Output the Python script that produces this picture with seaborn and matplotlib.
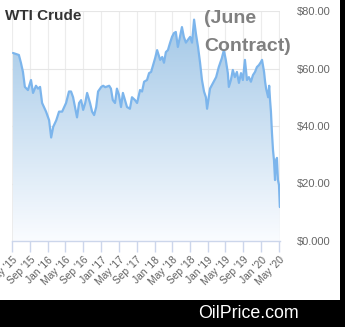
import matplotlib
matplotlib.use("Agg")
import matplotlib.pyplot as plt
import matplotlib.dates as mdates
import numpy as np
import pandas as pd
import seaborn as sns
from matplotlib.patches import Rectangle, Polygon

dates = ["2015-05-08", "2015-06-17", "2015-07-01", "2015-07-15", "2015-07-28", "2015-08-18",
         "2015-09-08", "2015-09-22", "2015-10-12", "2015-10-26", "2015-11-09", "2015-11-23",
         "2015-12-20", "2016-01-10", "2016-01-24", "2016-02-07", "2016-02-28", "2016-03-18",
         "2016-04-08", "2016-05-05", "2016-05-25", "2016-06-08", "2016-06-22", "2016-07-05",
         "2016-07-19", "2016-08-02", "2016-08-16", "2016-08-30", "2016-09-13", "2016-09-26",
         "2016-10-16", "2016-10-30", "2016-11-13", "2016-11-27", "2016-12-10", "2017-01-01",
         "2017-01-14", "2017-01-28", "2017-02-24", "2017-03-08", "2017-03-21", "2017-04-05",
         "2017-04-18", "2017-05-02", "2017-05-16", "2017-05-29", "2017-06-12", "2017-06-26",
         "2017-07-16", "2017-07-30", "2017-08-20", "2017-09-03", "2017-09-23", "2017-10-07",
         "2017-10-21", "2017-11-10", "2017-11-24", "2017-12-08", "2017-12-22", "2018-01-05",
         "2018-01-18", "2018-02-08", "2018-02-22", "2018-03-06", "2018-03-19", "2018-04-02",
         "2018-04-16", "2018-04-30", "2018-05-13", "2018-05-26", "2018-06-09", "2018-06-23",
         "2018-07-07", "2018-07-20", "2018-08-03", "2018-08-17", "2018-09-01", "2018-09-14",
         "2018-09-28", "2018-10-11", "2018-10-25", "2018-11-08", "2018-11-21", "2018-12-05",
         "2018-12-18", "2018-12-26", "2019-01-15", "2019-02-05", "2019-02-26", "2019-03-16",
         "2019-04-06", "2019-04-20", "2019-05-03", "2019-05-17", "2019-05-24", "2019-06-07",
         "2019-06-20", "2019-07-04", "2019-07-18", "2019-08-01", "2019-08-15", "2019-08-28",
         "2019-09-11", "2019-09-25", "2019-10-08", "2019-10-22", "2019-11-05", "2019-11-19",
         "2019-12-02", "2019-12-16", "2019-12-30", "2020-01-06", "2020-01-20", "2020-01-27",
         "2020-02-03", "2020-02-17", "2020-02-24", "2020-03-01", "2020-03-07", "2020-03-14",
         "2020-03-21", "2020-03-28", "2020-04-04", "2020-04-11", "2020-04-17", "2020-04-24",
         "2020-05-01", "2020-05-07"]
prices = [65.4, 64.7, 62.0, 58.8, 53.6, 52.5,
          56.0, 51.5, 54.0, 53.0, 53.6, 48.0,
          45.0, 42.0, 36.0, 39.7, 42.0, 45.0,
          45.0, 48.0, 52.0, 52.0, 50.0, 46.6,
          43.0, 48.0, 49.0, 45.6, 48.0, 51.5,
          48.0, 45.0, 43.8, 46.6, 52.0, 53.6,
          54.0, 53.5, 54.0, 53.0, 49.0, 48.0,
          53.0, 50.8, 46.6, 51.5, 49.0, 46.6,
          46.0, 50.0, 49.0, 48.0, 52.5, 52.0,
          55.4, 56.0, 58.4, 58.8, 61.2, 63.7,
          66.4, 63.0, 64.0, 62.0, 65.7, 66.4,
          68.8, 71.0, 72.3, 72.7, 67.5, 71.0,
          74.4, 71.0, 69.0, 70.0, 71.0, 69.0,
          77.0, 72.0, 67.5, 62.0, 56.0, 52.0,
          50.0, 46.0, 53.0, 55.0, 57.0, 60.5,
          63.6, 66.4, 63.0, 58.4, 53.6, 56.0,
          59.5, 57.0, 58.8, 55.0, 58.4, 56.0,
          63.0, 56.0, 57.0, 55.4, 57.7, 58.8,
          60.5, 61.2, 62.3, 63.0, 58.8, 55.4,
          53.0, 50.0, 54.0, 49.0, 45.0, 37.6,
          31.7, 28.0, 21.2, 28.0, 28.9, 21.2,
          19.5, 11.8]

tick_dates = ["2015-05-01", "2015-09-01", "2016-01-01", "2016-05-01", "2016-09-01",
              "2017-01-01", "2017-05-01", "2017-09-01", "2018-01-01", "2018-05-01",
              "2018-09-01", "2019-01-01", "2019-05-01", "2019-09-01", "2020-01-01",
              "2020-05-01"]
tick_labels = ["May '15", "Sep '15", "Jan '16", "May '16", "Sep '16", "Jan '17",
               "May '17", "Sep '17", "Jan '18", "May '18", "Sep '18", "Jan '19",
               "May '19", "Sep '19", "Jan '20", "May '20"]
y_ticks = [0, 20, 40, 60, 80]
y_labels = ["$0.000", "$20.00", "$40.00", "$60.00", "$80.00"]

df = pd.DataFrame({"date": pd.to_datetime(dates), "price": prices})

sns.set_style("white")
plt.rcParams["font.family"] = ["Liberation Sans", "DejaVu Sans"]

W, H = 345, 327
fig = plt.figure(figsize=(W / 100, H / 100), dpi=100)
fig.patch.set_facecolor("white")

x0 = pd.Timestamp("2015-05-01")
x1 = pd.Timestamp("2020-05-08")
ax = fig.add_axes([12 / W, (H - 241) / H, 268 / W, 230 / H])
ax.set_xlim(x0, x1)
ax.set_ylim(0, 80)

# gridlines
for t in tick_dates:
    ax.axvline(pd.Timestamp(t), color="#ececec", lw=0.8, zorder=0)
for yv in y_ticks[1:]:
    ax.axhline(yv, color="#e6e6e6", lw=0.8, zorder=0)

# gradient fill under the line
xn = mdates.date2num(df["date"])
verts = [(xn[0], 0)] + list(zip(xn, df["price"])) + [(xn[-1], 0)]
poly = Polygon(verts, closed=True, facecolor="none", edgecolor="none")
ax.add_patch(poly)
top = np.array([160, 198, 230]) / 255
bot = np.array([250, 252, 255]) / 255
grad = np.linspace(0, 1, 256)[:, None]
img = top[None, None, :] * grad[..., None] + bot[None, None, :] * (1 - grad[..., None])
img = np.repeat(img, 2, axis=1)
im = ax.imshow(img, extent=[xn[0], xn[-1], 0, 80], origin="lower", aspect="auto", zorder=1)
im.set_clip_path(poly)
ax.set_xlim(x0, x1)
ax.set_ylim(0, 80)

sns.lineplot(data=df, x="date", y="price", ax=ax, color="#7cb5ec", lw=1.6, zorder=3)

for s in ["top", "right", "left"]:
    ax.spines[s].set_visible(False)
ax.spines["bottom"].set_color("#ccd6eb")
ax.spines["bottom"].set_linewidth(1)

ax.set_xticks([pd.Timestamp(t) for t in tick_dates])
ax.set_xticklabels(tick_labels, rotation=45, ha="right", rotation_mode="anchor",
                   fontsize=7.4, color="#606060")
ax.tick_params(axis="x", length=8, color="#ccd6eb", width=1, pad=2, bottom=True)
ax.yaxis.tick_right()
ax.set_yticks(y_ticks)
ax.set_yticklabels(y_labels, fontsize=8, color="#666666")
ax.tick_params(axis="y", length=0, pad=12)
ax.set_xlabel("")
ax.set_ylabel("")

fig.text(5 / W, 1 - 16 / H, "WTI Crude", fontsize=11, fontweight="bold",
         color="#333333", va="center", ha="left")
fig.text(204 / W, 1 - 10 / H, "(June", fontsize=14, fontweight="bold",
         color="#808080", va="top", ha="left")
fig.text(204 / W, 1 - 38 / H, "Contract)", fontsize=14, fontweight="bold",
         color="#808080", va="top", ha="left")

# black frame band
fig.patches.append(Rectangle((0, 0), 1, 27 / H, transform=fig.transFigure,
                             facecolor="black", edgecolor="none", zorder=10))
fig.patches.append(Rectangle((340 / W, 0), 5 / W, 1, transform=fig.transFigure,
                             facecolor="black", edgecolor="none", zorder=10))
fig.text(248 / W, 13.5 / H, "OilPrice.com", fontsize=12.8, color="white",
         ha="center", va="center", zorder=11)

fig.savefig("out.png", dpi=100)
